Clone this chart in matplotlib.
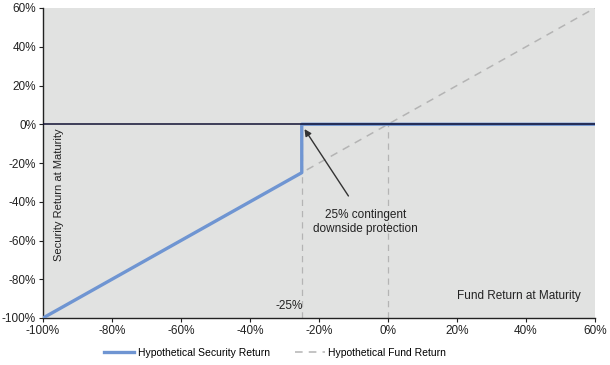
import matplotlib
matplotlib.use("Agg")
import matplotlib.pyplot as plt
from matplotlib.ticker import PercentFormatter

plt.rcParams['font.family'] = ['Liberation Sans', 'DejaVu Sans']
plt.rcParams['axes.unicode_minus'] = False

fund_x = [-100, 60]
fund_y = [-100, 60]
sec_x = [-100, -25, -25, 60]
sec_y = [-100, -25, 0, 0]
xticks = [-100, -80, -60, -40, -20, 0, 20, 40, 60]
yticks = [-100, -80, -60, -40, -20, 0, 20, 40, 60]
protection = -25

fig = plt.figure(figsize=(6.1, 3.65), dpi=100)
ax = fig.add_axes([43/610, 1 - 318/365, (595-43)/610, (318-8)/365])
ax.set_facecolor('#e1e2e1')

dash_c = '#b4b4b4'
ax.plot([protection, protection], [-100, 0], color=dash_c, lw=0.9, ls=(0, (5, 4)), zorder=1)
ax.plot([0, 0], [-100, 0], color=dash_c, lw=0.9, ls=(0, (5, 4)), zorder=1)
ax.plot(fund_x, fund_y, color=dash_c, lw=1.1, ls=(0, (5, 4)), zorder=2, label='Hypothetical Fund Return')
ax.plot(sec_x, sec_y, color='#6f95d2', lw=2.4, zorder=3, label='Hypothetical Security Return')
ax.axhline(0, color='#111133', lw=1.1, zorder=4)

ax.set_xlim(-100, 60)
ax.set_ylim(-100, 60)
ax.set_xticks(xticks)
ax.set_yticks(yticks)
ax.xaxis.set_major_formatter(PercentFormatter(decimals=0))
ax.yaxis.set_major_formatter(PercentFormatter(decimals=0))
for s in ['top', 'right']:
    ax.spines[s].set_visible(False)
for s in ['left', 'bottom']:
    ax.spines[s].set_color('#222222')
    ax.spines[s].set_linewidth(1.0)
ax.tick_params(axis='both', direction='out', length=3, width=0.8, labelsize=8.5, colors='#222222', pad=2)

ax.text(-95.5, -2, 'Security Return at Maturity', rotation=90, ha='center', va='top', fontsize=8, color='#222222')
ax.text(56, -88.5, 'Fund Return at Maturity', ha='right', va='center', fontsize=8.5, color='#222222')
ax.text(-28.5, -94, '-25%', ha='center', va='center', fontsize=8.5, color='#222222')
ax.annotate('25% contingent\ndownside protection', xy=(-24.2, -2.5), xytext=(-6.5, -50.5),
            ha='center', va='center', fontsize=8.5, color='#222222',
            arrowprops=dict(arrowstyle='-|>', color='#333333', lw=1.0, shrinkA=9, shrinkB=0, mutation_scale=10))

h, l = ax.get_legend_handles_labels()
fig.legend([h[1], h[0]], [l[1], l[0]], loc='center', bbox_to_anchor=(275/610, 1 - 353/365), ncol=2,
           frameon=False, fontsize=7.5, handlelength=2.9, handletextpad=0.3, columnspacing=2.4)

fig.savefig('out.png', dpi=100)
